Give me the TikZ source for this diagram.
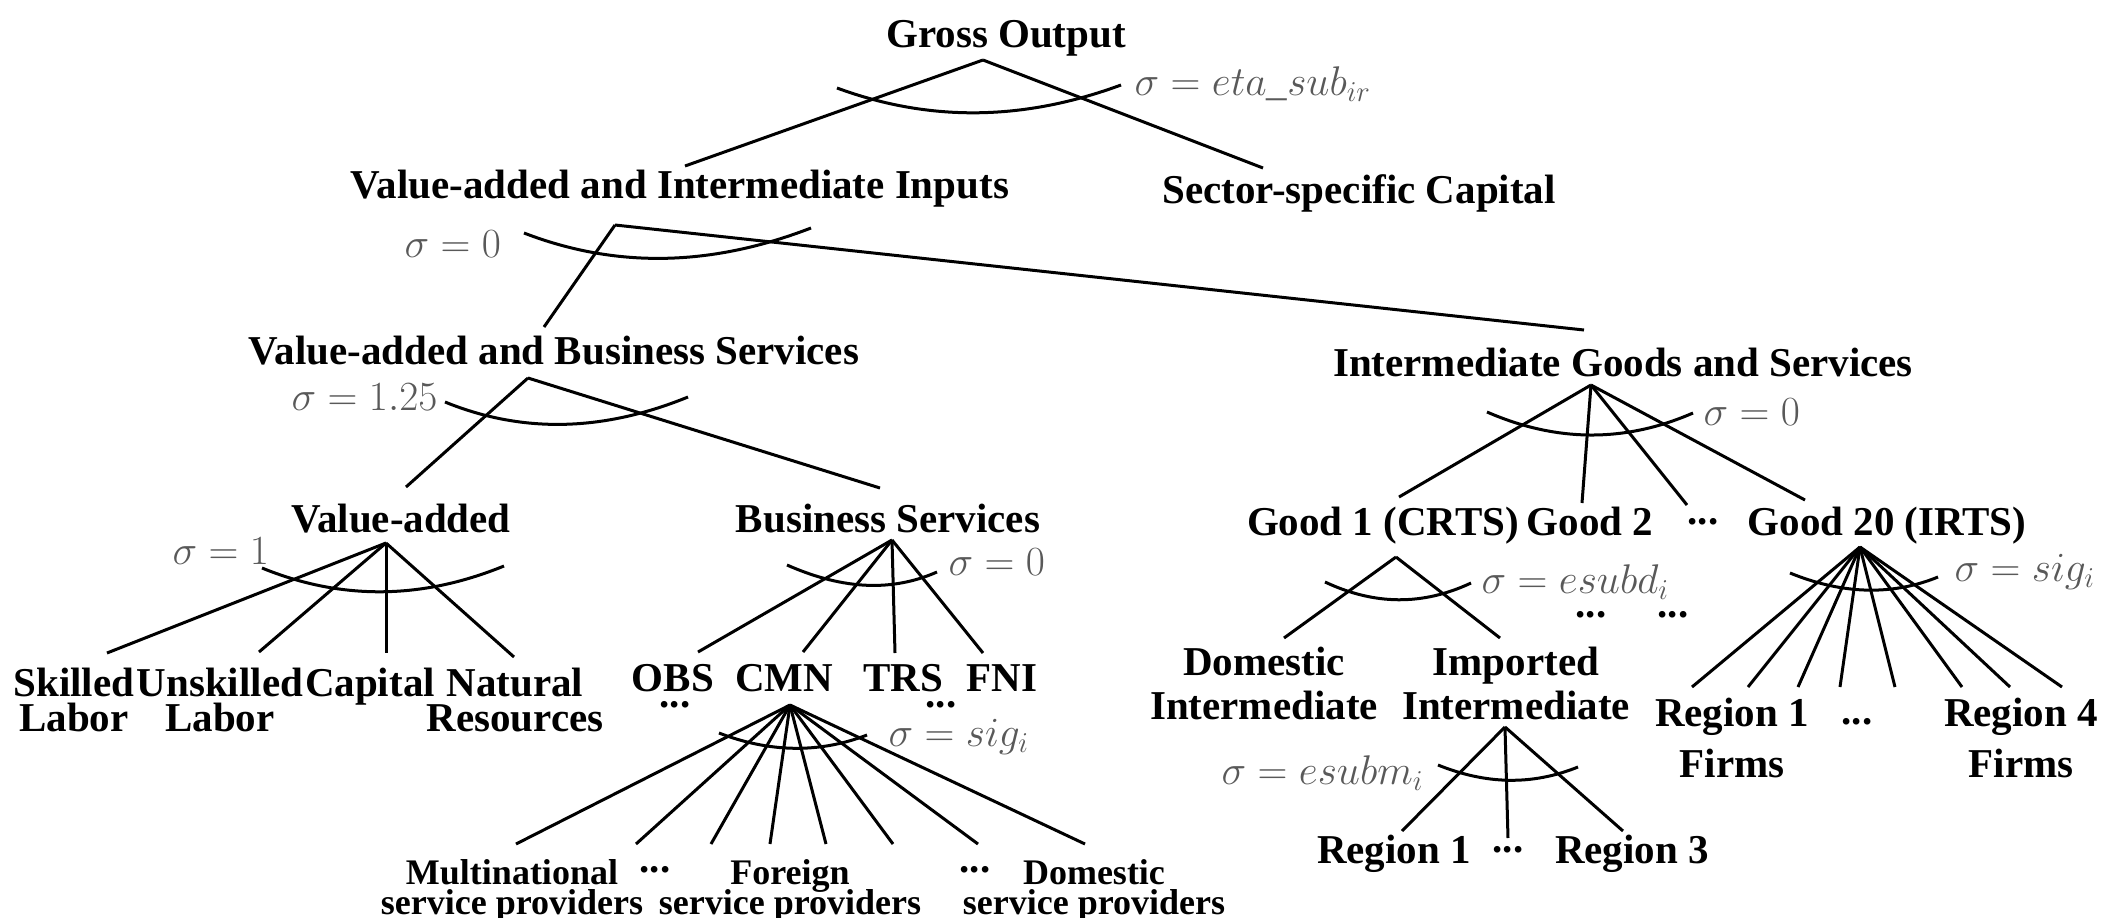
\documentclass[tikz,border=0pt]{standalone}
\usepackage{fontspec}
\setmainfont{Liberation Serif}
\lineskiplimit=-20pt
\begin{document}
\begin{tikzpicture}[x=0.5pt,y=-0.5pt,line width=1.5pt,
	lbl/.style={anchor=north,inner sep=0pt,align=center,font=\fontsize{20.5}{17.5}\selectfont\bfseries},
	lbs/.style={lbl,font=\fontsize{18}{15}\selectfont\bfseries},
	sig/.style={anchor=west,inner sep=0pt,text=black!65,font=\fontsize{20.5}{20.5}\selectfont},
	dts/.style={inner sep=0pt,font=\fontsize{20.5}{20.5}\selectfont\bfseries}]
	\useasboundingbox (0,0) rectangle (2101,917);
	% labels
	\node[lbl] (gross) at (1006,19) {Gross Output};
	\node[lbl] (vaii) at (680,169) {Value-added and Intermediate Inputs};
	\node[lbl] (cap) at (1359,173) {Sector-specific Capital};
	\node[lbl] (vabs) at (554,335) {Value-added and Business Services};
	\node[lbl] (igs) at (1623,347) {Intermediate Goods and Services};
	\node[lbl] (va) at (401,503) {Value-added};
	\node[lbl] (bs) at (888,503) {Business Services};
	\node[lbl] (good1) at (1383,506) {Good 1 (CRTS)};
	\node[lbl] (good2) at (1590,506) {Good 2};
	\node[dts] (gdots) at (1703,522) {...};
	\node[lbl] (good20) at (1887,506) {Good 20 (IRTS)};
	\node[lbl] (skl) at (74,667) {Skilled\\Labor};
	\node[lbl] (unskl) at (220,667) {Unskilled\\Labor};
	\node[lbl] (kap) at (370,667) {Capital};
	\node[lbl] (natres) at (515,667) {Natural\\Resources};
	\node[lbl] (obs) at (673,663) {OBS};
	\node[lbl] (cmn) at (784,663) {CMN};
	\node[lbl] (trs) at (903,663) {TRS};
	\node[lbl] (fni) at (1002,663) {FNI};
	\node[dts] (odots) at (675,705) {...};
	\node[dts] (tdots) at (941,705) {...};
	\node[lbl] (dom) at (1264,646) {Domestic\\[4.5pt]Intermediate};
	\node[lbl] (imp) at (1516,646) {Imported\\[4.5pt]Intermediate};
	\node[dts] (idots1) at (1591,615) {...};
	\node[dts] (idots2) at (1673,615) {...};
	\node[lbl] (reg1f) at (1732,697) {Region 1\\[8pt]Firms};
	\node[dts] (rdots) at (1857,722) {...};
	\node[lbl] (reg4f) at (2021,697) {Region 4\\[8pt]Firms};
	\node[lbl] (reg1) at (1394,834) {Region 1};
	\node[dts] (mdots) at (1508,850) {...};
	\node[lbl] (reg3) at (1632,834) {Region 3};
	\node[lbs] (mnsp) at (512,858) {Multinational\\service providers};
	\node[dts] (sdots1) at (655,870) {...};
	\node[lbs] (fsp) at (790,858) {Foreign\\service providers};
	\node[dts] (sdots2) at (975,870) {...};
	\node[lbs] (dsp) at (1094,858) {Domestic\\service providers};
	% elasticities
	\node[sig] (s-gross) at (1133,84) {$\sigma=eta\_sub_{ir}$};
	\node[sig] (s-vaii) at (403,244) {$\sigma=0$};
	\node[sig] (s-vabs) at (290,397) {$\sigma=1.25$};
	\node[sig] (s-igs) at (1702,412) {$\sigma=0$};
	\node[sig] (s-va) at (171,551) {$\sigma=1$};
	\node[sig] (s-bs) at (947,562) {$\sigma=0$};
	\node[sig] (s-good1) at (1480,582) {$\sigma=esubd_i$};
	\node[sig] (s-good20) at (1953,572) {$\sigma=sig_i$};
	\node[sig] (s-cmn) at (887,737) {$\sigma=sig_i$};
	\node[sig] (s-imp) at (1220,773) {$\sigma=esubm_i$};
	% gross output
	\coordinate (a-gross) at (983,60);
	\coordinate (e-vaii) at (685,166);
	\coordinate (e-cap) at (1263,168);
	\draw (a-gross) -- (e-vaii);
	\draw (a-gross) -- (e-cap);
	\draw (837,88) .. controls +(95,35) and +(-95,35) .. (1121,85);
	% value-added and intermediate inputs
	\coordinate (a-vaii) at (615,225);
	\coordinate (e-vabs) at (544,327);
	\coordinate (e-igs) at (1584,330);
	\draw (a-vaii) -- (e-vabs);
	\draw (a-vaii) -- (e-igs);
	\draw (524,233) .. controls +(96,37) and +(-96,37) .. (811,228);
	% value-added and business services
	\coordinate (a-vabs) at (528,378);
	\coordinate (e-va) at (406,487);
	\coordinate (e-bs) at (880,488);
	\draw (a-vabs) -- (e-va);
	\draw (a-vabs) -- (e-bs);
	\draw (445,402) .. controls +(81,33) and +(-81,33) .. (688,397);
	% value-added
	\coordinate (a-va) at (386,543);
	\foreach \x/\y [count=\i] in {107/653,259/652,386/653,514/657}{
		\coordinate (e-va\i) at (\x,\y);
		\draw (a-va) -- (e-va\i);
	}
	\draw (262,568) .. controls +(81,33) and +(-81,33) .. (504,566);
	% business services
	\coordinate (a-bs) at (892,540);
	\foreach \x/\y [count=\i] in {698/652,803/652,895/653,983/653}{
		\coordinate (e-bs\i) at (\x,\y);
		\draw (a-bs) -- (e-bs\i);
	}
	\draw (787,565) .. controls +(50,22) and +(-50,22) .. (937,572);
	% CMN
	\coordinate (a-cmn) at (790,705);
	\foreach \x [count=\i] in {516,636,711,770,826,893,978,1085}{
		\coordinate (e-cmn\i) at (\x,844);
		\draw (a-cmn) -- (e-cmn\i);
	}
	\draw (719,733) .. controls +(49,19) and +(-49,19) .. (867,735);
	% intermediate goods and services
	\coordinate (a-igs) at (1591,385);
	\foreach \x/\y [count=\i] in {1399/497,1582/503,1687/505,1805/500}{
		\coordinate (e-igs\i) at (\x,\y);
		\draw (a-igs) -- (e-igs\i);
	}
	\draw (1487,412) .. controls +(69,30) and +(-69,30) .. (1693,413);
	% good 1
	\coordinate (a-good1) at (1396,557);
	\coordinate (e-dom) at (1284,638);
	\coordinate (e-imp) at (1500,638);
	\draw (a-good1) -- (e-dom);
	\draw (a-good1) -- (e-imp);
	\draw (1325,582) .. controls +(49,23) and +(-49,23) .. (1471,583);
	% good 20
	\coordinate (a-good20) at (1860,547);
	\foreach \x [count=\i] in {1692,1748,1798,1840,1895,1962,2010,2062}{
		\coordinate (e-good\i) at (\x,687);
		\draw (a-good20) -- (e-good\i);
	}
	\draw (1790,573) .. controls +(49,20) and +(-49,20) .. (1938,577);
	% imported intermediate
	\coordinate (a-imp) at (1505,727);
	\foreach \x/\y [count=\i] in {1402/831,1508/838,1623/831}{
		\coordinate (e-imp\i) at (\x,\y);
		\draw (a-imp) -- (e-imp\i);
	}
	\draw (1438,765) .. controls +(47,19) and +(-47,19) .. (1578,767);
\end{tikzpicture}
\end{document}
